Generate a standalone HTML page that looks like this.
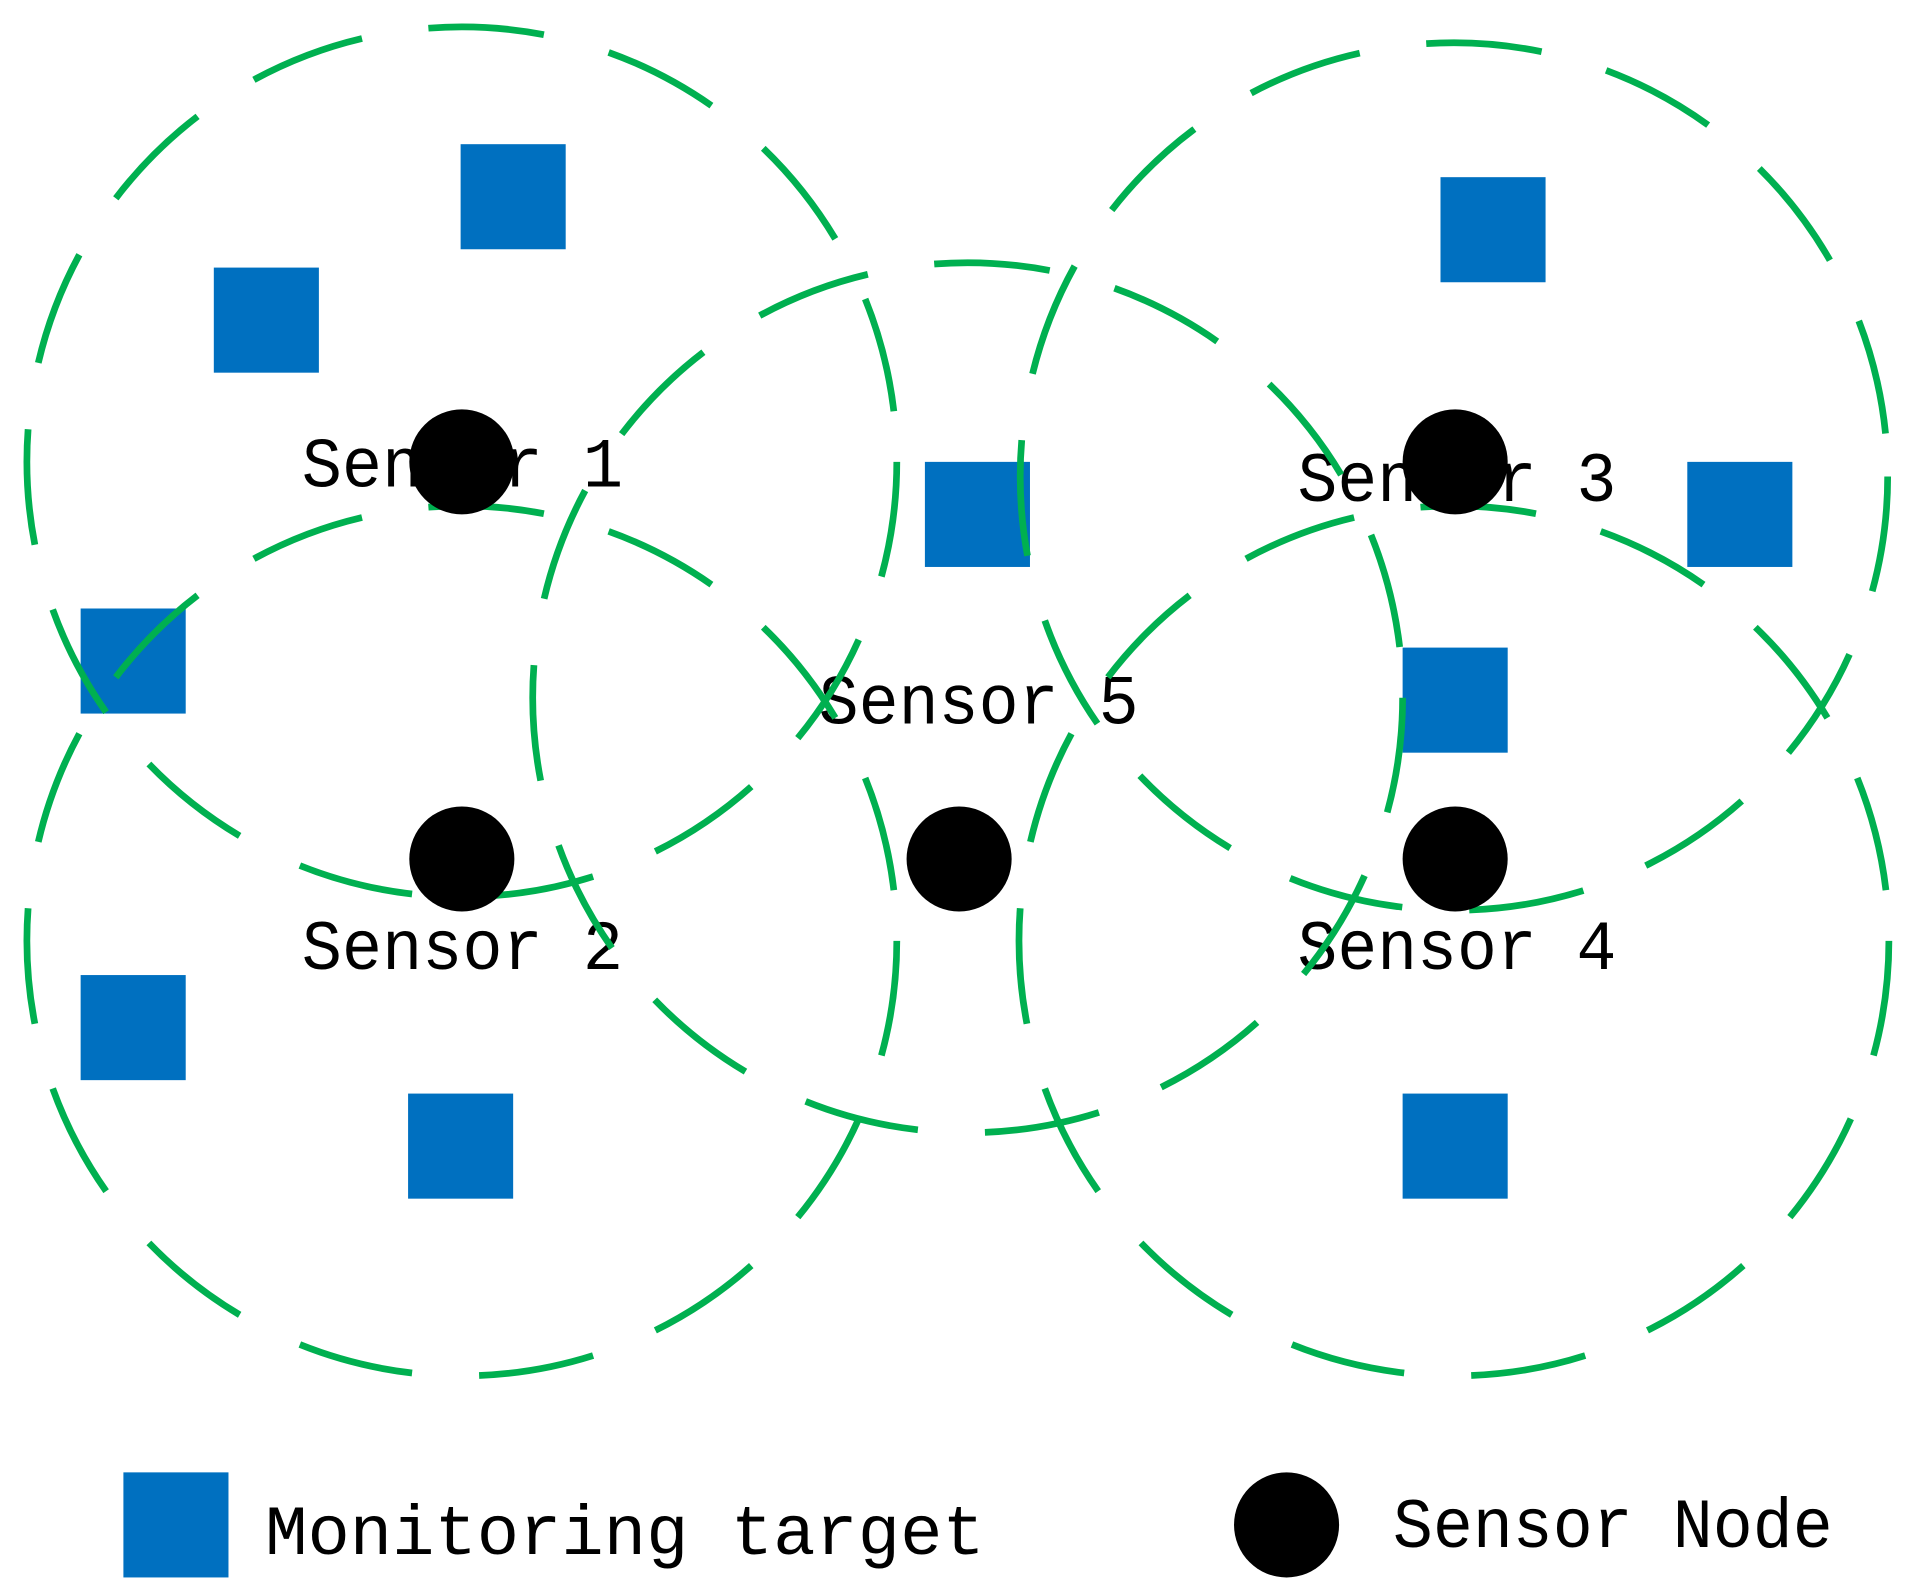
<!DOCTYPE html>
<html><head><meta charset="utf-8"><style>html,body{margin:0;padding:0;background:#fff}svg{display:block}</style></head>
<body>
<svg width="1906" height="1586" viewBox="0 0 1560 1298" preserveAspectRatio="none" xmlns="http://www.w3.org/2000/svg">
<g font-family="Liberation Mono, monospace" font-size="58" fill="#000">
<text x="247" y="398" textLength="263" lengthAdjust="spacingAndGlyphs">Sensor 1</text>
<text x="1062" y="410" textLength="261" lengthAdjust="spacingAndGlyphs">Sensor 3</text>
<text x="670" y="592" textLength="262" lengthAdjust="spacingAndGlyphs">Sensor 5</text>
<text x="247" y="793" textLength="263" lengthAdjust="spacingAndGlyphs">Sensor 2</text>
<text x="1062" y="793" textLength="261" lengthAdjust="spacingAndGlyphs">Sensor 4</text>
<text x="217" y="1272" textLength="589" lengthAdjust="spacingAndGlyphs">Monitoring  target</text>
<text x="1140" y="1266" textLength="360" lengthAdjust="spacingAndGlyphs">Sensor Node</text>
</g>
<g fill="#0070c0">
<rect x="377" y="118" width="86" height="86"/>
<rect x="175" y="219" width="86" height="86"/>
<rect x="757" y="378" width="86" height="86"/>
<rect x="66" y="498" width="86" height="86"/>
<rect x="1179" y="145" width="86" height="86"/>
<rect x="1381" y="378" width="86" height="86"/>
<rect x="1148" y="530" width="86" height="86"/>
<rect x="66" y="798" width="86" height="86"/>
<rect x="334" y="895" width="86" height="86"/>
<rect x="1148" y="895" width="86" height="86"/>
<rect x="101" y="1205" width="86" height="86"/>
</g>
<g fill="none" stroke="#00b050" stroke-width="5.5" stroke-dasharray="95 55">
<circle cx="378" cy="378" r="356"/>
<circle cx="378" cy="770" r="356"/>
<circle cx="1190" cy="390" r="355"/>
<circle cx="1190" cy="770" r="356"/>
<circle cx="792" cy="571" r="356"/>
</g>
<g fill="#000">
<circle cx="378" cy="378" r="43"/>
<circle cx="378" cy="703" r="43"/>
<circle cx="785" cy="703" r="43"/>
<circle cx="1191" cy="378" r="43"/>
<circle cx="1191" cy="703" r="43"/>
<circle cx="1053" cy="1248" r="43"/>
</g>
</svg>
</body></html>
